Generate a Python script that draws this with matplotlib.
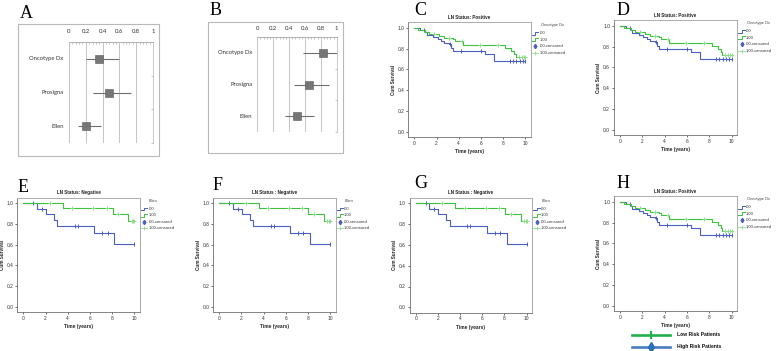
import numpy as np
import matplotlib
matplotlib.use("Agg")
import matplotlib.pyplot as plt
from matplotlib.lines import Line2D
from matplotlib.patches import Rectangle

plt.rcParams['font.family'] = ['Liberation Sans', 'DejaVu Sans']

# ---------------- data ----------------
forest_labels = ["Oncotype Dx", "Prosigna", "Ellen"]
forest_ticks = [0, 0.2, 0.4, 0.6, 0.8, 1]
forest_ticklabels = ["0", "0.2", "0.4", "0.6", "0.8", "1"]
A_est = [0.356, 0.476, 0.200]
A_lo = [0.208, 0.288, 0.108]
A_hi = [0.600, 0.736, 0.376]
B_est = [0.824, 0.651, 0.504]
B_lo = [0.571, 0.462, 0.349]
B_hi = [1.000, 0.908, 0.714]

# LN positive (Oncotype Dx groups)
pos_blue_t = [0, 0.5, 1.0, 1.1, 1.7, 2.1, 2.4, 2.7, 3.1, 3.3, 3.5, 6.4, 7.15, 10]
pos_blue_s = [1.0, 0.98, 0.955, 0.93, 0.915, 0.895, 0.87, 0.855, 0.84, 0.81, 0.775, 0.745, 0.68, 0.68]
pos_blue_c = [0.9, 3.2, 4.2, 6.0, 8.6, 8.9, 9.2, 9.5, 9.8, 10.0]
pos_green_t = [0, 0.35, 1.0, 1.35, 2.2, 2.7, 3.5, 3.65, 4.4, 8.2, 8.75, 9.0, 9.15, 10]
pos_green_s = [1.0, 0.98, 0.96, 0.94, 0.92, 0.90, 0.888, 0.87, 0.83, 0.81, 0.78, 0.75, 0.72, 0.72]
pos_green_c = [1.8, 3.1, 4.3, 5.9, 7.55, 9.4, 9.7, 9.85, 10.0]

# LN negative (Ellen groups)
neg_blue_t = [0, 1.2, 2.05, 2.75, 3.05, 6.4, 8.2, 10]
neg_blue_s = [1.0, 0.945, 0.895, 0.835, 0.78, 0.71, 0.605, 0.605]
neg_blue_c = [0.9, 1.65, 4.65, 4.9, 7.1, 7.6, 10.0]
neg_green_t = [0, 3.55, 8.05, 9.45, 10]
neg_green_s = [1.0, 0.955, 0.895, 0.83, 0.83]
neg_green_c = [2.4, 4.4, 6.3, 7.5, 8.55, 9.75, 9.9, 10.0]

km_yticks = [0.0, 0.2, 0.4, 0.6, 0.8, 1.0]
km_xticks = [0, 2, 4, 6, 8, 10]
legend_entries = [".00", "1.00", ".00-censored", "1.00-censored"]
bottom_legend = ["Low Risk Patients", "High Risk Patients"]

# ---------------- style ----------------
W, H = 778, 351
BLUE = "#4a5fc1"
GREEN = "#3cc13c"
LGREEN = "#8fdc8f"

fig = plt.figure(figsize=(W / 100, H / 100), dpi=100)
fig.patch.set_facecolor("white")


def fx(px):
    return px / W


def fy(py):
    return 1 - py / H


def fline(xs, ys, **kw):
    fig.add_artist(Line2D([fx(v) for v in xs], [fy(v) for v in ys],
                          transform=fig.transFigure, **kw))


def letter(txt, x, y):
    fig.text(fx(x), fy(y), txt, fontsize=13, family=['Liberation Serif', 'DejaVu Serif'],
             ha='left', va='baseline')


def forest(box, inner, est, lo, hi, pad):
    x0, y0, x1, y1 = box
    fig.add_artist(Rectangle((fx(x0), fy(y1)), (x1 - x0) / W, (y1 - y0) / H,
                             transform=fig.transFigure, fill=False,
                             edgecolor="#b8b8b8", lw=0.8))
    ix0, iy0, ix1, iy1 = inner
    ax = fig.add_axes([fx(ix0), fy(iy1), (ix1 - ix0) / W, (iy1 - iy0) / H])
    ax.set_xlim(0, 1)
    ax.set_ylim(3, 0)
    for v in [0, 0.2, 0.4, 0.6, 0.8]:
        ax.axvline(v, color="#c4c4c4", lw=0.7, zorder=0)
    for s in ["left", "bottom"]:
        ax.spines[s].set_visible(False)
    ax.spines["top"].set_color("#b0b0b0")
    ax.spines["top"].set_linewidth(0.7)
    ax.spines["right"].set_color("#c8c8c8")
    ax.spines["right"].set_linewidth(0.7)
    ax.xaxis.tick_top()
    ax.set_xticks(forest_ticks)
    ax.set_xticklabels(forest_ticklabels, family=['Lato', 'DejaVu Sans'])
    ax.set_xticks(np.arange(0, 1.0001, 0.04), minor=True)
    ax.tick_params(axis='x', which='major', length=0, pad=pad, labelsize=4.3,
                   labelcolor="#333333")
    ax.tick_params(axis='x', which='minor', length=1.2, width=0.4, direction='in',
                   color="#999999", top=True)
    ax.yaxis.tick_right()
    ax.set_yticks([1, 2, 3])
    ax.set_yticklabels([])
    ax.tick_params(axis='y', length=1.5, width=0.5, direction='in', color="#aaaaaa")
    rows = np.arange(len(est)) + 0.5
    ax.hlines(rows, lo, hi, color="#6e6e6e", lw=0.8, zorder=2)
    ax.scatter(est, rows, marker='s', s=26, color="#767676", edgecolor="#5a5a5a",
               linewidth=0.4, zorder=3)
    for r, lab in zip(rows, forest_labels):
        ax.text(-0.065, r, lab, ha='right', va='center', fontsize=4.2,
                family=['Lato', 'DejaVu Sans'], color="#333333")
    ax.set_facecolor("none")
    return ax


def km(x0, x10, y0, y1, title, leg_title, groups, title_dx):
    ppy = (x10 - x0) / 10.0
    ppu = (y0 - y1)
    xl = (-0.55, 10.5)
    yl = (-0.05, 1.055)
    left = x0 + xl[0] * ppy
    right = x0 + xl[1] * ppy
    top = y0 - yl[1] * ppu
    bottom = y0 - yl[0] * ppu
    ax = fig.add_axes([fx(left), fy(bottom), (right - left) / W, (bottom - top) / H])
    ax.set_xlim(*xl)
    ax.set_ylim(*yl)
    for (t, s, c, col, cmark, ccol) in groups:
        ax.step(t, s, where='post', color=col, lw=0.8)
        t_arr = np.asarray(t)
        s_arr = np.asarray(s)
        idx = np.searchsorted(t_arr, np.asarray(c), side='right') - 1
        ax.plot(c, s_arr[idx], linestyle='none', marker=cmark, color=ccol,
                markersize=2.6, mew=0.7)
    for sname, sp in ax.spines.items():
        sp.set_linewidth(0.6)
        sp.set_color("#a0a0a0" if sname in ("top", "right") else "#707070")
    ax.set_xticks(km_xticks)
    ax.set_yticks(km_yticks)
    ax.set_yticklabels([f"{v:.1f}" for v in km_yticks])
    ax.tick_params(length=1.5, width=0.5, pad=1.2, labelsize=3.5, colors="#333333")
    cx = (left + right) / 2
    fig.text(fx(cx), fy(top - 4.8), title, fontsize=3.3, fontweight='bold',
             ha='center', va='center', color="#222222")
    fig.text(fx(left - 15), fy((top + bottom) / 2), "Cum Survival", fontsize=3.3,
             fontweight='bold', rotation=90, ha='center', va='center', color="#222222")
    fig.text(fx(cx), fy(bottom + 14.5), "Time (years)", fontsize=3.5,
             fontweight='bold', ha='center', va='center', color="#222222")
    # legend
    fig.text(fx(right + title_dx), fy(y1 - 2.5), leg_title, fontsize=2.9,
             ha='left', va='center', color="#444444")
    offs = [5.5, 12, 18.5, 25]
    ix0 = right + 1.2
    ix1 = right + 7.5
    for i, (lab, o) in enumerate(zip(legend_entries, offs)):
        yy = y1 + o
        if i < 2:
            col = BLUE if i == 0 else GREEN
            mid = (ix0 + ix1) / 2
            fline([ix0, mid, mid, ix1], [yy + 1.3, yy + 1.3, yy - 1.3, yy - 1.3],
                  color=col, lw=0.7)
        elif i == 2:
            fline([(ix0 + ix1) / 2], [yy], marker='d', markersize=2.2, color=BLUE,
                  linestyle='none')
        else:
            fline([ix0, ix1], [yy, yy], color=LGREEN, lw=0.6)
            fline([(ix0 + ix1) / 2], [yy], marker='|', markersize=3, color=LGREEN,
                  mew=0.6, linestyle='none')
        fig.text(fx(right + 8.5), fy(yy), lab, fontsize=3.0, ha='left', va='center',
                 color="#333333")
    return ax


pos_groups = [(pos_blue_t, pos_blue_s, pos_blue_c, BLUE, '|', BLUE),
              (pos_green_t, pos_green_s, pos_green_c, GREEN, '+', LGREEN)]
neg_groups = [(neg_blue_t, neg_blue_s, neg_blue_c, BLUE, '|', BLUE),
              (neg_green_t, neg_green_s, neg_green_c, GREEN, '+', LGREEN)]

# Forest plots
forest((18, 24, 159, 156), (69, 42, 153, 143), A_est, A_lo, A_hi, pad=5.6)
forest((208, 22, 343, 153), (257.3, 37, 336.7, 132), B_est, B_lo, B_hi, pad=4.4)
letter("A", 20, 18)
letter("B", 210, 15)

# KM panels
km(414.3, 525.3, 132, 27.7, "LN Status: Positive", "Oncotype Dx", pos_groups, 10)
km(620, 731.7, 130, 25.7, "LN Status: Positive", "Oncotype Dx", pos_groups, 10)
km(23.3, 134.3, 306.7, 203.3, "LN Status: Negative", "Ellen", neg_groups, 9)
km(219.3, 330, 306.7, 203.3, "LN Status : Negative", "Ellen", neg_groups, 9)
km(415.7, 526.7, 307.3, 203.3, "LN Status : Negative", "Ellen", neg_groups, 9)
km(620, 731.7, 306, 201.7, "LN Status: Positive", "Oncotype Dx", pos_groups, 10)

letter("C", 414, 15)
letter("D", 617, 15)
letter("E", 18, 192)
letter("F", 213, 190)
letter("G", 414, 188)
letter("H", 617, 188)

# bottom legend of H
fline([631.7, 670], [335, 335], color="#22b04a", lw=1.9)
fline([651], [335], marker='|', markersize=5.5, mew=1.6, color="#22b04a", linestyle='none')
fline([631.7, 670], [346.7, 346.7], color="#4a7cc0", lw=1.9)
fline([651], [346.7], marker='d', markersize=5.5, color="#2e6fb8", linestyle='none')
fig.text(fx(676.7), fy(335), bottom_legend[0], fontsize=3.6, fontweight='bold',
         ha='left', va='center', color="#111111")
fig.text(fx(676.7), fy(346.7), bottom_legend[1], fontsize=3.6, fontweight='bold',
         ha='left', va='center', color="#111111")

fig.savefig("out.png", dpi=100, facecolor="white")
